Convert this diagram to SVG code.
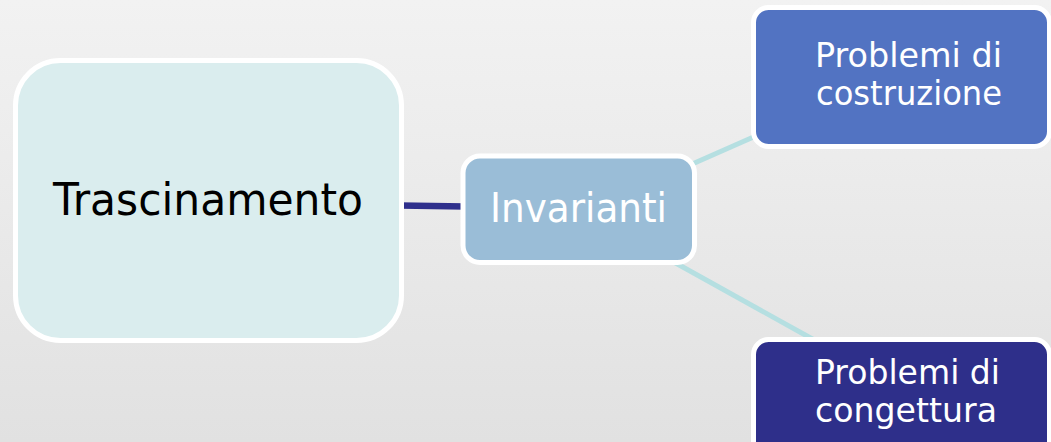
<svg xmlns="http://www.w3.org/2000/svg" width="1051" height="442" viewBox="0 0 1051 442">
  <defs>
    <linearGradient id="bg" x1="0" y1="0" x2="0" y2="1">
      <stop offset="0" stop-color="#f2f2f2"/>
      <stop offset="1" stop-color="#e1e1e1"/>
    </linearGradient>
    <style>
      .box { stroke: #ffffff; stroke-width: 5; }
      .lbl { font-family: "DejaVu Sans", Verdana, sans-serif; text-anchor: middle; }
      .conn { fill: none; stroke-linecap: butt; }
    </style>
  </defs>
  <rect x="0" y="0" width="1051" height="442" fill="url(#bg)"/>
  <g id="connectors">
    <line class="conn" x1="400" y1="205.5" x2="465" y2="206.5" stroke="#2e2f8c" stroke-width="6.5"/>
    <line class="conn" x1="690" y1="165" x2="758" y2="135" stroke="#b5dfe1" stroke-width="5"/>
    <line class="conn" x1="672" y1="261" x2="816" y2="341" stroke="#b5dfe1" stroke-width="5"/>
  </g>
  <g id="trascinamento">
    <rect class="box" x="15.5" y="60.5" width="386" height="280" rx="45" ry="45" fill="#daedee"/>
    <text class="lbl" x="208" y="215" font-size="45" fill="#000000" textLength="310" lengthAdjust="spacingAndGlyphs">Trascinamento</text>
  </g>
  <g id="invarianti">
    <rect class="box" x="463" y="156" width="231.5" height="106.5" rx="17" ry="17" fill="#9abdd7"/>
    <text class="lbl" x="578.5" y="222" font-size="41" fill="#ffffff" textLength="177" lengthAdjust="spacingAndGlyphs">Invarianti</text>
  </g>
  <g id="costruzione">
    <rect class="box" x="753.5" y="7.5" width="296" height="139" rx="15" ry="15" fill="#5273c2"/>
    <text class="lbl" x="908.5" y="67" font-size="33" fill="#ffffff" textLength="187" lengthAdjust="spacingAndGlyphs">Problemi di</text>
    <text class="lbl" x="909" y="105" font-size="33" fill="#ffffff" textLength="186" lengthAdjust="spacingAndGlyphs">costruzione</text>
  </g>
  <g id="congettura">
    <rect class="box" x="753.5" y="339.5" width="296" height="140" rx="15" ry="15" fill="#2e2f8a"/>
    <text class="lbl" x="907.5" y="383.5" font-size="33" fill="#ffffff" textLength="185" lengthAdjust="spacingAndGlyphs">Problemi di</text>
    <text class="lbl" x="906" y="421.5" font-size="33" fill="#ffffff" textLength="182" lengthAdjust="spacingAndGlyphs">congettura</text>
  </g>
</svg>
